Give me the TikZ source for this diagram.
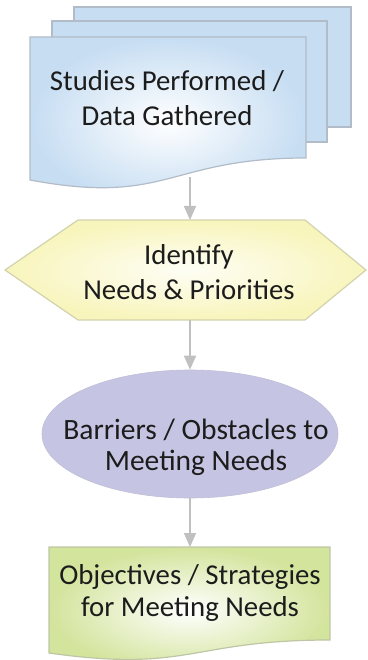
\documentclass[tikz,border=0pt]{standalone}
\usepackage{fontspec}
\setmainfont{Carlito}
\usetikzlibrary{arrows.meta,shapes.geometric}
\definecolor{sheetblue}{HTML}{C6DDF2}
\definecolor{sheetedge}{HTML}{B2BCC8}
\definecolor{hexfill}{HTML}{F8F5BC}
\definecolor{hexedge}{HTML}{D2D2AE}
\definecolor{lavfill}{HTML}{C5C5E3}
\definecolor{greenfill}{HTML}{D3E49C}
\definecolor{greenedge}{HTML}{BEC6A6}
\definecolor{arrowgray}{HTML}{C0C0C0}
\definecolor{txt}{HTML}{1C1C1C}
\tikzset{
  sheet/.style={fill=sheetblue, draw=sheetedge, line width=1.2pt},
  frontsheet/.style={draw=sheetedge, line width=1.2pt, inner color=white, outer color=sheetblue},
  hexbox/.style={draw=hexedge, line width=1.2pt, inner color=white!85!hexfill, outer color=hexfill},
  greenbox/.style={draw=greenedge, line width=1.2pt, inner color=white, outer color=greenfill},
  lavbox/.style={ellipse, fill=lavfill, draw=lavfill!90!gray, line width=0.6pt, inner sep=0pt},
  label/.style={align=center, text=txt, inner sep=0pt},
  flow/.style={draw=arrowgray, line width=1.6pt, -{Triangle[width=12pt,length=14pt]}}
}
\begin{document}
\begin{tikzpicture}[x=1pt,y=-1pt]
\useasboundingbox (0,0) rectangle (367,660);
% multi-document
\path[sheet] (74,7) rectangle (351,127);
\path[sheet] (52,21) rectangle (327,142);
\path[frontsheet] (30,37) -- (306,37) -- (306,158) .. controls (168,158) and (168,206) .. (30,180) -- cycle;
\node[label, font=\fontsize{28.8}{35}\selectfont] (studies) at (167,98) {Studies Performed /\\Data Gathered};
\coordinate (sbot) at (190,177);
% hexagon
\path[hexbox] (78,220) -- (305,220) -- (366,270) -- (305,320) -- (78,320) -- (5,270) -- cycle;
\coordinate (htop) at (190,220);
\coordinate (hbot) at (190,320);
\node[label, font=\fontsize{28.8}{35}\selectfont] (identify) at (189,272) {Identify\\Needs \& Priorities};
% ellipse
\node[lavbox, minimum width=296pt, minimum height=128pt] (bar) at (190,434) {};
\node[label, font=\fontsize{29.5}{31}\selectfont] (bartext) at (196,447) {Barriers / Obstacles to\\Meeting Needs};
% document
\path[greenbox] (49,547) -- (330,547) -- (330,640) .. controls (190,640) and (190,673) .. (49,653) -- cycle;
\coordinate (otop) at (190,547);
\node[label, font=\fontsize{28.8}{32}\selectfont] (objtext) at (190,593) {Objectives / Strategies\\for Meeting Needs};
% connectors
\draw[flow] (sbot) -- (htop);
\draw[flow] (hbot) -- (bar.north);
\draw[flow] (bar.south) -- (otop);
\end{tikzpicture}
\end{document}
